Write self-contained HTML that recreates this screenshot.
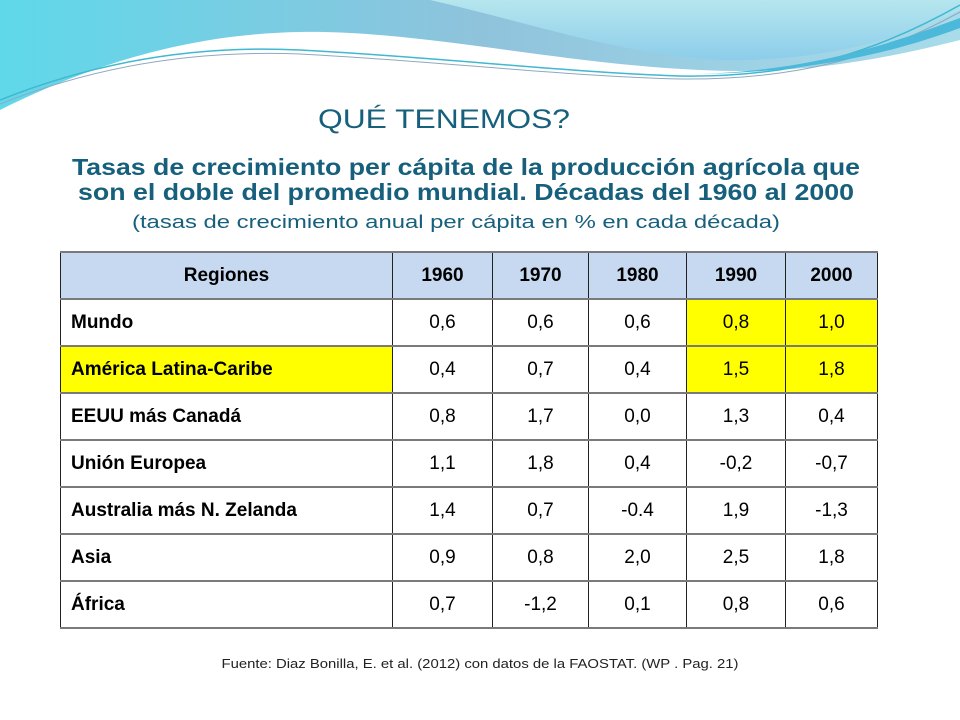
<!DOCTYPE html>
<html><head><meta charset="utf-8"><style>
body{margin:0;width:960px;height:720px;overflow:hidden;background:#fff;font-family:"Liberation Sans",sans-serif;position:relative}
.abs{position:absolute}
table{position:absolute;left:60px;top:251px;border-collapse:collapse;font-size:19px;color:#000}
td{border-left:1px solid #222;border-right:1px solid #222;border-top:2px solid #7a7a7a;border-bottom:2px solid #7a7a7a;height:45px;padding:0;text-align:center}
td.r{text-align:left;padding-left:10px;font-weight:bold}
tr.h td{background:#c6d9f1;font-weight:bold;text-align:center;padding-left:0}
.y{background:#ffff00}
svg text{font-family:"Liberation Sans",sans-serif}
</style></head><body>
<svg class="abs" style="left:0;top:0" width="960" height="720">
<defs>
<linearGradient id="g1" x1="0" y1="0" x2="1" y2="0"><stop offset="0" stop-color="#5fd8ea"/><stop offset="0.5" stop-color="#8fc3dc"/><stop offset="1" stop-color="#a8dcea"/></linearGradient>
<linearGradient id="g2" x1="0" y1="0" x2="0" y2="1"><stop offset="0" stop-color="#b6e6ee"/><stop offset="1" stop-color="#8ccdea"/></linearGradient>
</defs>
<path d="M0 0 H960 V40 C880 60 800 75 700 70 C560 64 420 30 300 32 C180 34 80 70 0 110 Z" fill="url(#g1)"/>
<path d="M430 0 H960 V10 C900 40 820 62 720 60 C620 55 520 20 430 0 Z" fill="url(#g2)"/>
<path d="M0 100 C100 60 200 45 300 50 C450 58 560 72 680 76 C800 78 880 50 960 5" fill="none" stroke="#3fb8d0" stroke-width="1.5"/>
<path d="M0 104 C100 64 200 50 300 54 C450 62 560 76 680 79 C800 80 880 56 960 12" fill="none" stroke="#8fa8c0" stroke-width="1"/>
<path d="M700 74 C820 70 900 40 960 18 L960 28 C900 50 820 72 700 74 Z" fill="#4cb8da"/>
</svg>
<svg class="abs" style="left:0;top:90" width="960" height="150">
<text x="444" y="38" text-anchor="middle" font-size="27" fill="#17607d" textLength="252" lengthAdjust="spacingAndGlyphs">QUÉ TENEMOS?</text>
<text x="466" y="85" text-anchor="middle" font-weight="bold" font-size="23" fill="#17607d" textLength="788" lengthAdjust="spacingAndGlyphs">Tasas de crecimiento per cápita de la producción agrícola que</text>
<text x="466" y="110" text-anchor="middle" font-weight="bold" font-size="23" fill="#17607d" textLength="776" lengthAdjust="spacingAndGlyphs">son el doble del promedio mundial. Décadas del 1960 al 2000</text>
<text x="456" y="138" text-anchor="middle" font-size="18" fill="#17607d" textLength="648" lengthAdjust="spacingAndGlyphs">(tasas de crecimiento anual per cápita en % en cada década)</text>
</svg>
<table>
<colgroup><col style="width:332px"><col style="width:100px"><col style="width:96px"><col style="width:98px"><col style="width:99px"><col style="width:92px"></colgroup>
<tr class="h"><td class="r" style="text-align:center;padding-left:0">Regiones</td><td>1960</td><td>1970</td><td>1980</td><td>1990</td><td>2000</td></tr>
<tr><td class="r">Mundo</td><td>0,6</td><td>0,6</td><td>0,6</td><td class="y">0,8</td><td class="y">1,0</td></tr>
<tr><td class="r y">América Latina-Caribe</td><td>0,4</td><td>0,7</td><td>0,4</td><td class="y">1,5</td><td class="y">1,8</td></tr>
<tr><td class="r">EEUU más Canadá</td><td>0,8</td><td>1,7</td><td>0,0</td><td>1,3</td><td>0,4</td></tr>
<tr><td class="r">Unión Europea</td><td>1,1</td><td>1,8</td><td>0,4</td><td>-0,2</td><td>-0,7</td></tr>
<tr><td class="r">Australia más N. Zelanda</td><td>1,4</td><td>0,7</td><td>-0.4</td><td>1,9</td><td>-1,3</td></tr>
<tr><td class="r">Asia</td><td>0,9</td><td>0,8</td><td>2,0</td><td>2,5</td><td>1,8</td></tr>
<tr><td class="r">África</td><td>0,7</td><td>-1,2</td><td>0,1</td><td>0,8</td><td>0,6</td></tr>
</table>
<svg class="abs" style="left:0;top:650" width="960" height="30">
<text x="480" y="18" text-anchor="middle" font-size="13" fill="#222" textLength="517" lengthAdjust="spacingAndGlyphs">Fuente: Diaz Bonilla, E. et al. (2012) con datos de la FAOSTAT. (WP . Pag. 21)</text>
</svg>
</body></html>
